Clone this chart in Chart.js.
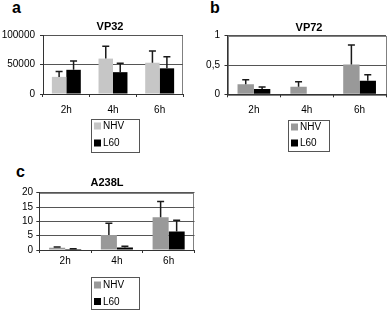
<!DOCTYPE html>
<html>
<head>
<meta charset="utf-8">
<script src="https://cdn.jsdelivr.net/npm/chart.js@4.4.1/dist/chart.umd.min.js"></script>
<style>
  body { margin: 0; background: #fff; width: 388px; height: 310px; overflow: hidden; position: relative;
         font-family: "Liberation Sans", Arial, sans-serif; }
  .panel { position: absolute; }
  .letter { position: absolute; font-weight: bold; font-size: 16px; line-height: 16px; color: #000; }
</style>
</head>
<body>
<div class="letter" style="left:12px;top:0px">a</div>
<div class="letter" style="left:210px;top:0px">b</div>
<div class="letter" style="left:16px;top:164px">c</div>
<div class="panel" style="left:0;top:0;width:195px;height:155px"><canvas id="chartA"></canvas></div>
<div class="panel" style="left:195px;top:0;width:193px;height:155px"><canvas id="chartB"></canvas></div>
<div class="panel" style="left:0;top:155px;width:200px;height:155px"><canvas id="chartC"></canvas></div>
<script>
// time points and series names
const timeLabels = ['2h', '4h', '6h'];
const seriesNames = ['NHV', 'L60'];

// VP32 (panel a)
const vp32NHV = [29000, 60000, 53000];
const vp32NHVErr = [9000, 21000, 20000];
const vp32L60 = [41000, 37000, 43500];
const vp32L60Err = [15000, 15000, 19500];

// VP72 (panel b)
const vp72NHV = [0.17, 0.13, 0.51];
const vp72NHVErr = [0.08, 0.085, 0.33];
const vp72L60 = [0.09, 0.01, 0.23];
const vp72L60Err = [0.035, 0, 0.105];

// A238L (panel c)
const a238lNHV = [0.8, 5.2, 11.4];
const a238lNHVErr = [0.25, 4.1, 5.5];
const a238lL60 = [0.35, 0.9, 6.5];
const a238lL60Err = [0.1, 0.4, 3.9];

// y axis ranges
const vp32Axis = { max: 100000, step: 50000 };
const vp72Axis = { max: 1, step: 0.5 };
const a238lAxis = { max: 20, step: 5 };

const FONT = '"Liberation Sans", Arial, sans-serif';
Chart.defaults.font.family = FONT;
Chart.defaults.font.size = 10;
Chart.defaults.color = '#000';

// upper error bar with a cap, drawn on top of each bar
const errorBars = {
    id: 'errorBars',
    afterDatasetsDraw: function (chart) {
        const ctx = chart.ctx;
        const yScale = chart.scales.y;
        chart.data.datasets.forEach((ds, i) => {
            if (!ds.errors) return;
            chart.getDatasetMeta(i).data.forEach((bar, j) => {
                const err = ds.errors[j];
                if (!err) return;
                const top = yScale.getPixelForValue(ds.data[j] + err);
                ctx.save();
                ctx.strokeStyle = '#1a1a1a';
                ctx.lineWidth = 1.5;
                ctx.beginPath();
                ctx.moveTo(bar.x, bar.y);
                ctx.lineTo(bar.x, top);
                ctx.moveTo(bar.x - 3.5, top);
                ctx.lineTo(bar.x + 3.5, top);
                ctx.stroke();
                ctx.restore();
            });
        });
    }
};

// plot frame, centred title and boxed legend (Excel look)
const panelDecor = {
    id: 'panelDecor',
    beforeDraw: function (chart) {
        const a = chart.chartArea;
        const ctx = chart.ctx;
        ctx.save();
        ctx.strokeStyle = '#808080';
        ctx.lineWidth = 1;
        ctx.strokeRect(Math.round(a.left) + 0.5, Math.round(a.top) + 0.5,
            Math.round(a.right - a.left) - 1, Math.round(a.bottom - a.top));
        ctx.restore();
    },
    afterDraw: function (chart, args, opts) {
        const ctx = chart.ctx;
        ctx.save();
        ctx.fillStyle = '#000';
        ctx.font = 'bold 11px ' + FONT;
        ctx.textAlign = 'center';
        ctx.textBaseline = 'middle';
        ctx.fillText(opts.title, opts.titleX, opts.titleY);

        const lg = opts.legend;
        ctx.strokeStyle = '#555';
        ctx.lineWidth = 1;
        ctx.strokeRect(lg.x + 0.5, lg.y + 0.5, lg.w, lg.h);
        ctx.font = '10px ' + FONT;
        ctx.textAlign = 'left';
        chart.data.datasets.forEach((ds, i) => {
            const rowY = lg.y + lg.rows[i];
            ctx.fillStyle = ds.backgroundColor;
            ctx.fillRect(lg.x + 3, rowY - 3.5, 7, 7);
            ctx.fillStyle = '#000';
            ctx.fillText(ds.label, lg.x + 12, rowY + 0.5);
        });
        ctx.restore();
    }
};

function makeChart(id, cfg) {
    const ctx = document.getElementById(id).getContext('2d');
    return new Chart(ctx, {
        type: 'bar',
        data: {
            labels: timeLabels,
            datasets: [
                { label: seriesNames[0], data: cfg.nhv, errors: cfg.nhvErr, backgroundColor: cfg.nhvColor, borderWidth: 0 },
                { label: seriesNames[1], data: cfg.l60, errors: cfg.l60Err, backgroundColor: '#000000', borderWidth: 0 }
            ]
        },
        options: {
            responsive: true,
            maintainAspectRatio: false,
            animation: false,
            events: [],
            categoryPercentage: 0.62,
            barPercentage: 1.0,
            layout: { padding: cfg.padding },
            plugins: {
                legend: { display: false },
                tooltip: { enabled: false },
                title: { display: false },
                panelDecor: cfg.decor
            },
            scales: {
                x: {
                    afterFit: function (axis) { axis.height = cfg.xHeight; },
                    grid: { drawOnChartArea: false, drawTicks: true, tickLength: 3, color: '#333', offset: true },
                    border: { color: '#333', width: 1 },
                    ticks: { padding: cfg.xPad, font: { size: 10 } }
                },
                y: {
                    min: 0,
                    max: cfg.axis.max,
                    afterFit: function (axis) { axis.width = cfg.yWidth; },
                    afterBuildTicks: function (axis) {
                        const ticks = [];
                        for (let v = 0; v <= cfg.axis.max + 1e-9; v += cfg.axis.step) ticks.push({ value: v });
                        axis.ticks = ticks;
                    },
                    grid: { color: '#555', tickLength: 3, tickColor: '#333' },
                    border: { color: '#333', width: 1 },
                    ticks: {
                        autoSkip: false,
                        padding: cfg.yPad,
                        font: { size: 10 },
                        callback: function (value) {
                            return cfg.decimalComma ? String(value).replace('.', ',') : String(value);
                        }
                    }
                }
            }
        },
        plugins: [errorBars, panelDecor]
    });
}

makeChart('chartA', {
    nhv: vp32NHV, nhvErr: vp32NHVErr, l60: vp32L60, l60Err: vp32L60Err,
    nhvColor: '#c6c6c6', axis: vp32Axis,
    padding: { left: 0, right: 12, top: 35, bottom: 36 },
    xHeight: 25, yWidth: 43, xPad: 7, yPad: 5,
    decor: { title: 'VP32', titleX: 110, titleY: 27,
             legend: { x: 91, y: 119, w: 48, h: 33, rows: [7, 24] } }
});

makeChart('chartB', {
    nhv: vp72NHV, nhvErr: vp72NHVErr, l60: vp72L60, l60Err: vp72L60Err,
    nhvColor: '#999999', axis: vp72Axis, decimalComma: true,
    padding: { left: 0, right: 2, top: 35.7, bottom: 35.7 },
    xHeight: 25, yWidth: 32.5, xPad: 6.7, yPad: 4.5,
    decor: { title: 'VP72', titleX: 114, titleY: 27.5,
             legend: { x: 93, y: 120, w: 41, h: 31, rows: [7, 23] } }
});

makeChart('chartC', {
    nhv: a238lNHV, nhvErr: a238lNHVErr, l60: a238lL60, l60Err: a238lL60Err,
    nhvColor: '#999999', axis: a238lAxis,
    padding: { left: 0, right: 5.5, top: 37.7, bottom: 35 },
    xHeight: 25, yWidth: 39.3, xPad: 2.5, yPad: 3.3,
    decor: { title: 'A238L', titleX: 107, titleY: 27.5,
             legend: { x: 91, y: 122, w: 48, h: 32, rows: [8, 24.5] } }
});
</script>
</body>
</html>
